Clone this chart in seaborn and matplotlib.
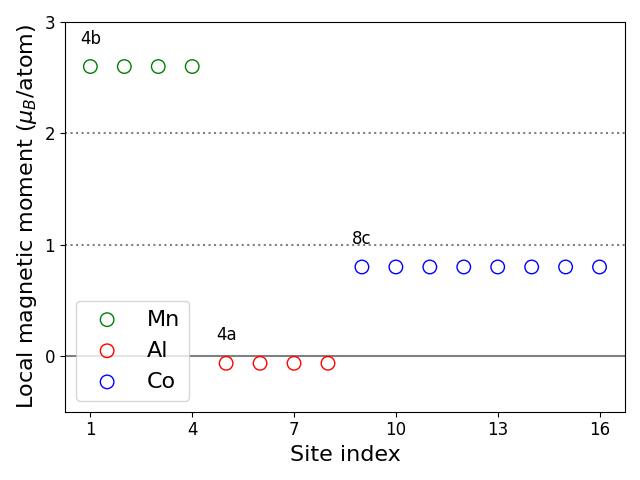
import matplotlib
matplotlib.use("Agg")
import matplotlib.pyplot as plt
import seaborn as sns
import pandas as pd

mn_sites = [1, 2, 3, 4]
mn_moments = [2.6, 2.6, 2.6, 2.6]
al_sites = [5, 6, 7, 8]
al_moments = [-0.065, -0.065, -0.065, -0.065]
co_sites = [9, 10, 11, 12, 13, 14, 15, 16]
co_moments = [0.8, 0.8, 0.8, 0.8, 0.8, 0.8, 0.8, 0.8]

elements = ["Mn", "Al", "Co"]
colors = {"Mn": "green", "Al": "red", "Co": "blue"}
xticks = [1, 4, 7, 10, 13, 16]
yticks = [0, 1, 2, 3]

site_labels = ["4b", "4a", "8c"]
label_pos_x = [0.7, 4.7, 8.7]
label_pos_y = [2.8, 0.14, 1.01]

fig, ax = plt.subplots(figsize=(6.4, 4.8), dpi=100)

data = {"Mn": (mn_sites, mn_moments), "Al": (al_sites, al_moments), "Co": (co_sites, co_moments)}
for el in elements:
    xs, ys = data[el]
    df = pd.DataFrame({"site": xs, "moment": ys})
    sns.scatterplot(data=df, x="site", y="moment", ax=ax, marker="o", s=95,
                    facecolors="none", edgecolor=colors[el], linewidth=1.0,
                    label=el, zorder=3)

ax.axhline(0, color="gray", linestyle="-", linewidth=1.5, zorder=1)
ax.axhline(1, color="gray", linestyle=":", linewidth=1.5, zorder=1)
ax.axhline(2, color="gray", linestyle=":", linewidth=1.5, zorder=1)

for t, tx, ty in zip(site_labels, label_pos_x, label_pos_y):
    ax.text(tx, ty, t, fontsize=12)

ax.set_ylim(-0.5, 3)
ax.set_xticks(xticks)
ax.set_yticks(yticks)
ax.tick_params(labelsize=12)
ax.set_xlabel("Site index", fontsize=16)
ax.set_ylabel(r"Local magnetic moment ($\mu_B$/atom)", fontsize=16)
ax.legend(loc="lower left", fontsize=16)

fig.tight_layout()
fig.savefig("out.png", dpi=100)
